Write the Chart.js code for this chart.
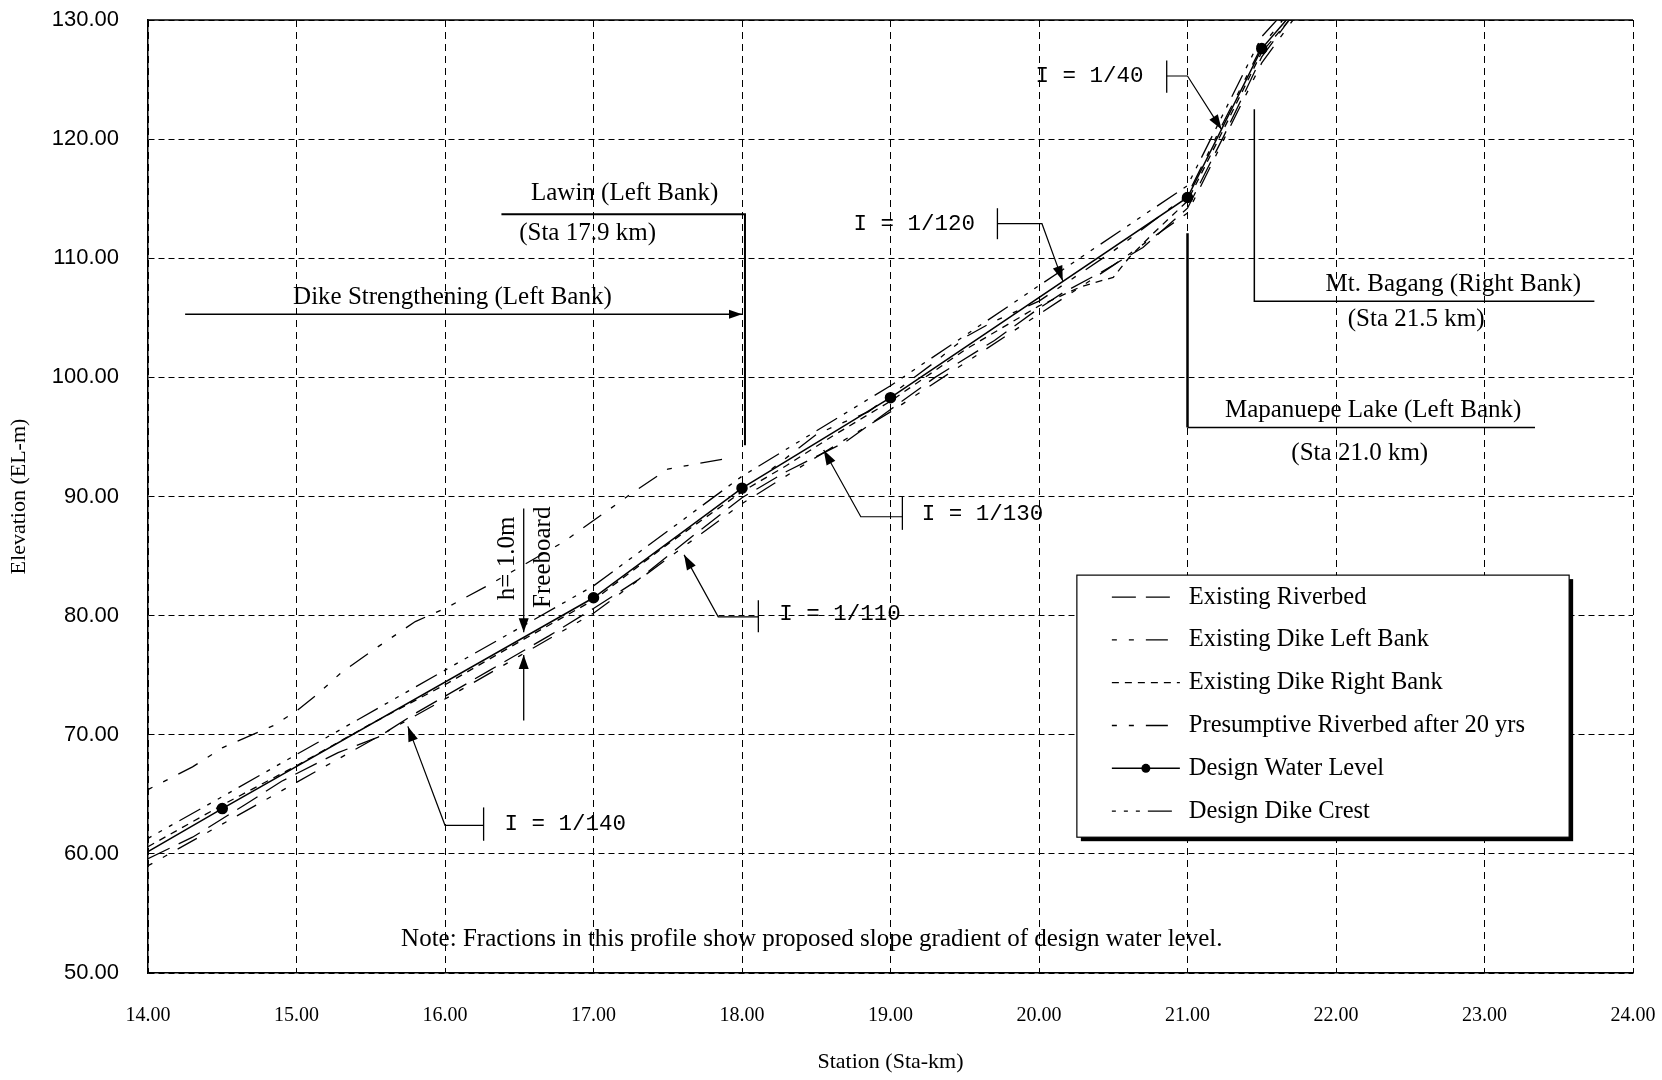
<!DOCTYPE html>
<html>
<head>
<meta charset="utf-8">
<title>Longitudinal Profile</title>
<script src="https://cdn.jsdelivr.net/npm/chart.js@4.4.1/dist/chart.umd.min.js"></script>
<style>
  html, body { margin: 0; padding: 0; background: #fff; }
  #wrap { width: 1662px; height: 1080px; position: relative; }
</style>
</head>
<body>
<div id="wrap"><canvas id="chart"></canvas></div>
<script>
// station (km) / elevation (EL-m)
const riverbedKm = [14.0, 14.3, 14.65, 14.9, 15.28, 15.55, 15.8, 16.3, 16.7, 17.0, 17.3, 17.67, 18.0, 18.3, 18.7, 19.0, 19.3, 19.7, 20.0, 20.16, 20.4, 20.7, 21.0, 21.25, 21.5, 21.72];
const riverbedEl = [59.6, 61.4, 64.1, 66.1, 68.5, 69.8, 71.8, 75.4, 78.3, 80.6, 83.0, 86.7, 89.9, 92.1, 94.6, 97.3, 100.0, 103.1, 105.8, 107.1, 108.7, 110.9, 114.2, 120.4, 126.9, 130.6];

const leftDikeKm = [14.0, 14.3, 14.5, 14.85, 15.0, 15.15, 15.3, 15.55, 15.8, 16.0, 16.3, 16.8, 17.25, 17.5, 17.9, 17.95, 18.2, 18.5, 18.66, 18.85, 19.0, 19.3, 19.52, 19.68, 20.0, 20.5, 21.0, 21.25, 21.5, 21.68];
const leftDikeEl = [65.4, 67.3, 68.9, 70.8, 72.0, 73.5, 75.2, 77.4, 79.5, 80.6, 82.6, 86.2, 90.2, 92.3, 93.2, null, 92.3, 95.2, 96.1, 97.1, 98.5, 101.3, 103.5, 104.6, 106.4, 110.6, 115.3, 121.6, 127.8, 130.6];

const rightDikeKm = [14.0, 14.5, 15.0, 15.5, 16.0, 16.5, 17.0, 17.5, 18.0, 18.3, 18.6, 19.0, 19.5, 20.0, 20.28, 20.5, 20.61, 20.77, 21.0, 21.25, 21.5, 21.72];
const rightDikeEl = [60.6, 64.1, 67.4, 70.9, 74.2, 77.8, 81.3, 86.0, 90.4, 92.6, 95.0, 98.0, 102.3, 106.0, 107.6, 108.4, 110.1, 112.1, 114.8, 121.0, 127.3, 130.5];

const futureBedKm = [14.0, 14.5, 15.0, 15.5, 16.0, 16.5, 17.0, 17.5, 18.0, 18.5, 19.0, 19.5, 20.0, 20.5, 21.0, 21.5, 21.74];
const futureBedEl = [59.0, 62.5, 66.0, 69.5, 73.0, 76.6, 80.2, 84.8, 89.4, 93.3, 97.1, 101.2, 105.3, 109.4, 113.8, 126.4, 130.5];

const waterKm = [14.0, 14.5, 17.0, 18.0, 19.0, 21.0, 21.5, 21.7];
const waterEl = [60.2, 63.8, 81.5, 90.7, 98.3, 115.1, 127.6, 130.5];

const crestKm = [14.0, 14.5, 17.0, 18.0, 19.0, 21.0, 21.5, 21.66];
const crestEl = [61.3, 64.8, 82.5, 91.7, 99.3, 116.1, 128.6, 130.8];

const SERIF = '"Liberation Serif", "Times New Roman", serif';
const SANS = '"Liberation Sans", Arial, sans-serif';
const MONO = '"Liberation Mono", "Courier New", monospace';

function pts(km, el) {
    return km.map((k, i) => ({ x: k, y: el[i] }));
}

// slope gradient callouts: text, bar, knee and arrow tip, all in km / EL-m
const slopeNotes = [
    { t: 'I = 1/140', tx: 16.81, ty: 62.5, bar: 16.26, barTop: 63.9, barBot: 61.1, kx: 16.0, ky: 62.4, ax: 15.75, ay: 70.7 },
    { t: 'I = 1/110', tx: 18.66, ty: 80.1, bar: 18.11, barTop: 81.3, barBot: 78.6, kx: 17.84, ky: 79.9, ax: 17.61, ay: 85.1 },
    { t: 'I = 1/130', tx: 19.62, ty: 88.5, bar: 19.08, barTop: 90.0, barBot: 87.2, kx: 18.8, ky: 88.3, ax: 18.55, ay: 93.9 },
    { t: 'I = 1/120', tx: 19.16, ty: 112.9, bar: 19.72, barTop: 114.2, barBot: 111.6, kx: 20.02, ky: 112.9, ax: 20.16, ay: 108.1 },
    { t: 'I = 1/40', tx: 20.34, ty: 125.3, bar: 20.86, barTop: 126.6, barBot: 123.9, kx: 21.0, ky: 125.3, ax: 21.23, ay: 120.8 }
];

function seg(c, p, w) {
    c.save();
    c.lineWidth = w || 1.2;
    c.strokeStyle = '#000';
    c.setLineDash([]);
    c.beginPath();
    c.moveTo(p[0][0], p[0][1]);
    for (let i = 1; i < p.length; i++) c.lineTo(p[i][0], p[i][1]);
    c.stroke();
    c.restore();
}

function head(c, fx, fy, tx, ty, len, half) {
    const a = Math.atan2(ty - fy, tx - fx);
    const bx = tx - len * Math.cos(a), by = ty - len * Math.sin(a);
    c.save();
    c.fillStyle = '#000';
    c.beginPath();
    c.moveTo(tx, ty);
    c.lineTo(bx + half * Math.sin(a), by - half * Math.cos(a));
    c.lineTo(bx - half * Math.sin(a), by + half * Math.cos(a));
    c.closePath();
    c.fill();
    c.restore();
}

function label(c, str, x, y, font, align, rot) {
    c.save();
    c.fillStyle = '#000';
    c.font = font;
    c.textAlign = align || 'center';
    c.textBaseline = 'middle';
    c.translate(x, y);
    if (rot) c.rotate(rot);
    c.fillText(str, 0, 0);
    c.restore();
}

const paper = {
    id: 'paper',
    beforeDraw(chart) {
        const c = chart.ctx;
        c.save();
        c.fillStyle = '#fff';
        c.fillRect(0, 0, chart.width, chart.height);
        c.restore();
    },
    beforeDatasetsDraw(chart) {
        const a = chart.chartArea;
        seg(chart.ctx, [[a.left, a.top], [a.right, a.top]], 1.5);
    }
};

const notes = {
    id: 'notes',
    afterDatasetsDraw(chart) {
        const c = chart.ctx;
        const X = v => chart.scales.x.getPixelForValue(v);
        const Y = v => chart.scales.y.getPixelForValue(v);
        const txt = '25px ' + SERIF;

        // Lawin
        label(c, 'Lawin (Left Bank)', X(17.21), Y(115.4), txt);
        seg(c, [[X(16.38), Y(113.7)], [X(18.02), Y(113.7)], [X(18.02), Y(94.3)]], 2);
        label(c, '(Sta 17.9 km)', X(16.96), Y(112.1), txt);

        // Dike strengthening
        label(c, 'Dike Strengthening (Left Bank)', X(16.05), Y(106.7), txt);
        seg(c, [[X(14.25), Y(105.3)], [X(18.0), Y(105.3)]], 1.5);
        head(c, X(17.8), Y(105.3), X(18.0), Y(105.3), 13, 4.5);

        // Mt. Bagang
        seg(c, [[X(21.45), Y(122.5)], [X(21.45), Y(106.4)], [X(23.74), Y(106.4)]], 1.5);
        label(c, 'Mt. Bagang (Right Bank)', X(22.79), Y(107.8), txt);
        label(c, '(Sta 21.5 km)', X(22.54), Y(104.9), txt);

        // Mapanuepe Lake
        seg(c, [[X(21.0), Y(112.1)], [X(21.0), Y(95.8)]], 2.5);
        seg(c, [[X(21.0), Y(95.8)], [X(23.34), Y(95.8)]], 1.5);
        label(c, 'Mapanuepe Lake (Left Bank)', X(22.25), Y(97.2), txt);
        label(c, '(Sta 21.0 km)', X(22.16), Y(93.6), txt);

        // slope callouts
        slopeNotes.forEach(s => {
            label(c, s.t, X(s.tx), Y(s.ty), '22.5px ' + MONO);
            seg(c, [[X(s.bar), Y(s.barTop)], [X(s.bar), Y(s.barBot)]], 1.3);
            seg(c, [[X(s.bar), Y(s.ky)], [X(s.kx), Y(s.ky)], [X(s.ax), Y(s.ay)]], 1.2);
            head(c, X(s.kx), Y(s.ky), X(s.ax), Y(s.ay), 15, 5);
        });

        // freeboard
        seg(c, [[X(16.53), Y(89.0)], [X(16.53), Y(78.6)]], 1.3);
        head(c, X(16.53), Y(89.0), X(16.53), Y(78.6), 14, 5);
        seg(c, [[X(16.53), Y(71.2)], [X(16.53), Y(76.7)]], 1.3);
        head(c, X(16.53), Y(71.2), X(16.53), Y(76.7), 14, 5);
        label(c, 'h= 1.0m', X(16.42), Y(84.8), txt, 'center', -Math.PI / 2);
        label(c, 'Freeboard', X(16.66), Y(84.9), txt, 'center', -Math.PI / 2);

        label(c, 'Note: Fractions in this profile show proposed slope gradient of design water level.', X(18.47), Y(52.8), txt);

        // legend box
        const L = X(20.255), T = Y(83.4), R = X(23.57), B = Y(61.4);
        c.save();
        c.fillStyle = '#000';
        c.fillRect(L + 4, T + 4, R - L, B - T);
        c.fillStyle = '#fff';
        c.fillRect(L, T, R - L, B - T);
        c.strokeStyle = '#000';
        c.lineWidth = 1.2;
        c.strokeRect(L, T, R - L, B - T);
        c.restore();
        chart.data.datasets.forEach((ds, i) => {
            const ry = T + 22 + i * 42.8;
            c.save();
            c.strokeStyle = '#000';
            c.lineWidth = ds.borderWidth;
            c.setLineDash(ds.borderDash || []);
            c.beginPath();
            c.moveTo(L + 35, ry);
            c.lineTo(L + 103, ry);
            c.stroke();
            if (ds.marker) {
                c.fillStyle = '#000';
                c.beginPath();
                c.arc(L + 69, ry, 4.5, 0, Math.PI * 2);
                c.fill();
            }
            c.restore();
            label(c, ds.label, L + 112, ry, '24.5px ' + SERIF, 'left');
        });
    }
};

const line = (lbl, data, dash, extra) => Object.assign({
    label: lbl,
    data: data,
    borderColor: '#000',
    backgroundColor: '#000',
    borderWidth: 1.3,
    borderDash: dash,
    pointRadius: 0,
    tension: 0,
    fill: false,
    spanGaps: false
}, extra || {});

new Chart(document.getElementById('chart'), {
    type: 'line',
    data: {
        datasets: [
            line('Existing Riverbed', pts(riverbedKm, riverbedEl), [24, 10]),
            line('Existing Dike Left Bank', pts(leftDikeKm, leftDikeEl), [5, 12, 5, 12, 22, 12]),
            line('Existing Dike Right Bank', pts(rightDikeKm, rightDikeEl), [7, 6]),
            line('Presumptive Riverbed after 20 yrs', pts(futureBedKm, futureBedEl), [5, 12, 5, 12, 22, 12]),
            line('Design Water Level', pts(waterKm, waterEl), [], {
                borderWidth: 1.5,
                marker: true,
                pointRadius: ctx => (ctx.dataIndex === 0 || ctx.dataIndex === waterKm.length - 1) ? 0 : 5
            }),
            line('Design Dike Crest', pts(crestKm, crestEl), [4, 8, 4, 8, 4, 8, 24, 8])
        ]
    },
    options: {
        responsive: true,
        maintainAspectRatio: false,
        animation: false,
        events: [],
        layout: { padding: { top: 20, right: 29, bottom: 0, left: 0 } },
        plugins: {
            legend: { display: false },
            tooltip: { enabled: false }
        },
        scales: {
            x: {
                type: 'linear',
                min: 14,
                max: 24,
                afterFit: s => { s.height = 107; },
                ticks: {
                    stepSize: 1,
                    maxRotation: 0,
                    autoSkip: false,
                    padding: 0,
                    color: '#000',
                    font: { family: SERIF, size: 20 },
                    callback: v => v.toFixed(2)
                },
                // tick marks kept invisible, only used to space the labels off the axis
                grid: { color: '#000', lineWidth: 1, drawTicks: true, tickLength: 31, tickColor: 'rgba(0,0,0,0)' },
                border: { display: true, color: '#000', width: 1.5, dash: [7, 5] },
                title: {
                    display: true,
                    text: 'Station (Sta-km)',
                    color: '#000',
                    font: { family: SERIF, size: 22 },
                    padding: { top: 0, bottom: 5 }
                }
            },
            y: {
                min: 50,
                max: 130,
                afterFit: s => { s.width = 148; },
                ticks: {
                    stepSize: 10,
                    padding: 0,
                    color: '#000',
                    font: { family: SANS, size: 22 },
                    callback: v => v.toFixed(2)
                },
                grid: { color: '#000', lineWidth: 1, drawTicks: true, tickLength: 29, tickColor: 'rgba(0,0,0,0)' },
                border: { display: true, color: '#000', width: 1.5, dash: [6, 4] },
                title: {
                    display: true,
                    text: 'Elevation (EL-m)',
                    color: '#000',
                    font: { family: SERIF, size: 22 },
                    padding: { top: 6, bottom: 0 }
                }
            }
        }
    },
    plugins: [paper, notes]
});
</script>
</body>
</html>
